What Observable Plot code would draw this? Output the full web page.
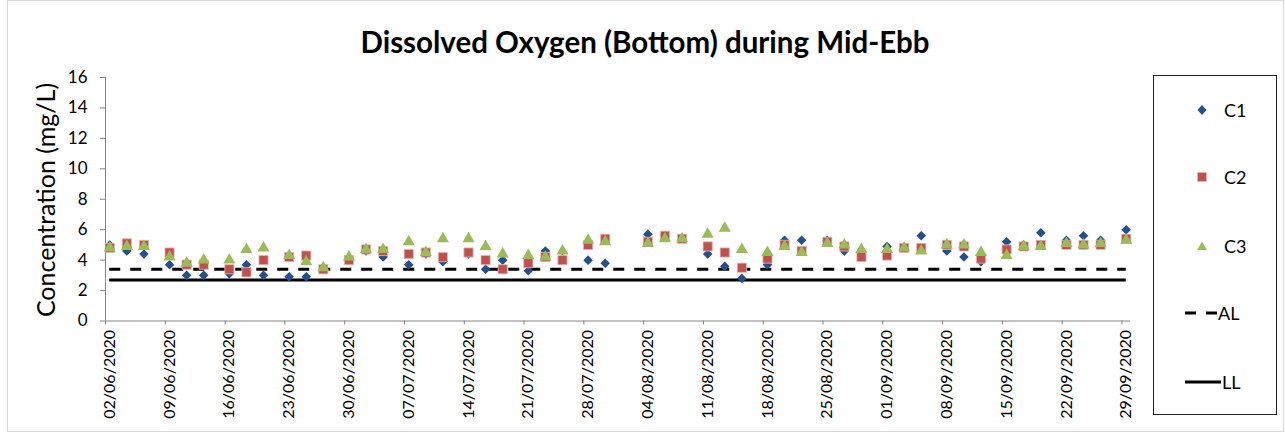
<!DOCTYPE html>
<html>
<head>
<meta charset="utf-8">
<script src="https://cdn.jsdelivr.net/npm/d3@7"></script>
<script src="https://cdn.jsdelivr.net/npm/@observablehq/plot@0.6"></script>
<style>
  body { margin: 0; background: #fff; font-family: Lato, "Open Sans", sans-serif; }
  #wrap { position: relative; width: 1285px; height: 441px; overflow: hidden; background: #fff; }
  #border { position: absolute; left: 7px; top: 0px; width: 1277px; height: 432px; border: 1px solid #d9d9d9; box-sizing: border-box; }
  #title { position: absolute; left: 0; top: 24px; width: 1290px; text-align: center; font-weight: bold; font-size: 29.5px; line-height: 36px; color: #000; }
  #ylabel { position: absolute; left: 45px; top: 200px; transform: translate(-50%, -50%) rotate(-90deg); white-space: nowrap; font-size: 25px; color: #000; }
  #chart { position: absolute; left: 0; top: 60px; }
  #legend { position: absolute; left: 1153px; top: 75px; width: 124px; height: 340px; border: 1px solid #222; box-sizing: border-box; background: #fff; }
  .li { position: absolute; left: 0; width: 124px; height: 24px; }
  .li svg { position: absolute; left: 0; top: 0; }
  .li span { position: absolute; top: 0; line-height: 24px; font-size: 18px; color: #000; }
</style>
</head>
<body>
<div id="wrap">
  <div id="border"></div>
  <div id="title">Dissolved Oxygen (Bottom) during Mid-Ebb</div>
  <div id="ylabel">Concentration (mg/L)</div>
  <div id="chart"></div>
  <div id="legend"></div>
</div>
<script>
// ---- data ----
const dates = [
  "2020-06-02","2020-06-04","2020-06-06","2020-06-09","2020-06-11","2020-06-13",
  "2020-06-16","2020-06-18","2020-06-20","2020-06-23","2020-06-25","2020-06-27",
  "2020-06-30","2020-07-02","2020-07-04","2020-07-07","2020-07-09","2020-07-11",
  "2020-07-14","2020-07-16","2020-07-18","2020-07-21","2020-07-23","2020-07-25",
  "2020-07-28","2020-07-30","2020-08-04","2020-08-06","2020-08-08","2020-08-11",
  "2020-08-13","2020-08-15","2020-08-18","2020-08-20","2020-08-22","2020-08-25",
  "2020-08-27","2020-08-29","2020-09-01","2020-09-03","2020-09-05","2020-09-08",
  "2020-09-10","2020-09-12","2020-09-15","2020-09-17","2020-09-19","2020-09-22",
  "2020-09-24","2020-09-26","2020-09-29"
];
const c1 = [5.0,4.6,4.4,3.7,3.0,3.0, 3.1,3.7,3.0,2.9,2.9,3.4, 4.0,4.6,4.2,3.7,4.4,3.9,
            4.4,3.4,4.0,3.3,4.6,4.1, 4.0,3.8,5.7,5.6,5.4,4.4, 3.6,2.8,3.7,5.3,5.3,5.3,
            4.6,4.6,4.9,4.8,5.6,4.6, 4.2,3.9,5.2,5.0,5.8,5.3, 5.6,5.3,6.0];
const c2 = [4.8,5.1,5.0,4.5,3.7,3.7, 3.4,3.2,4.0,4.2,4.3,3.4, 4.0,4.7,4.6,4.4,4.5,4.2,
            4.5,4.0,3.4,3.8,4.2,4.0, 5.0,5.4,5.2,5.6,5.4,4.9, 4.5,3.5,4.1,5.0,4.6,5.2,
            4.9,4.2,4.3,4.8,4.8,5.0, 4.9,4.1,4.7,4.9,5.0,5.0, 5.0,5.0,5.4];
const c3 = [4.8,4.9,4.9,4.2,3.8,4.0, 4.0,4.7,4.8,4.3,3.9,3.5, 4.2,4.7,4.7,5.2,4.5,5.4,
            5.4,4.9,4.4,4.3,4.2,4.6, 5.3,5.2,5.1,5.4,5.4,5.7, 6.1,4.7,4.5,4.9,4.5,5.1,
            5.0,4.7,4.7,4.8,4.6,5.0, 5.0,4.5,4.3,4.9,4.9,5.1, 5.0,5.1,5.3];
const actionLevel = 3.4;
const limitLevel = 2.7;
const tickDates = [
  "2020-06-02","2020-06-09","2020-06-16","2020-06-23","2020-06-30","2020-07-07",
  "2020-07-14","2020-07-21","2020-07-28","2020-08-04","2020-08-11","2020-08-18",
  "2020-08-25","2020-09-01","2020-09-08","2020-09-15","2020-09-22","2020-09-29"
];
const yTicks = [0, 2, 4, 6, 8, 10, 12, 14, 16];
const seriesNames = ["C1", "C2", "C3"];

// ---- build ----
const parse = d3.utcParse("%Y-%m-%d");
const D = dates.map(parse);
const T = tickDates.map(parse);
const tickBounds = T.map(d => d3.utcHour.offset(d, -12));
const x0 = d3.utcHour.offset(D[0], -12);
const x1 = d3.utcHour.offset(D[D.length - 1], 12);
const rows = (vals) => D.map((d, i) => ({date: d, v: vals[i]}));
const fmt = d3.utcFormat("%d/%m/%Y");

const colors = {C1: "#23508C", C2: "#C0504D", C3: "#9BBB59"};
const axisGray = "#868686";

const plot = Plot.plot({
  width: 1285,
  height: 381,
  marginLeft: 105,
  marginRight: 155,
  marginTop: 17,
  marginBottom: 120.5,
  style: {fontFamily: "Lato, 'Open Sans', sans-serif", color: "#000", background: "transparent"},
  x: {type: "utc", domain: [x0, x1]},
  y: {domain: [0, 16]},
  marks: [
    Plot.axisY(yTicks, {tickSize: 5, tickPadding: 13, fontSize: 17, stroke: axisGray, fill: "#000", label: null}),
    Plot.axisX(tickBounds, {tickSize: 4, tickFormat: () => "", stroke: axisGray, label: null}),
    Plot.axisX(T, {tickSize: 0, tickPadding: 9, tickRotate: -90, tickFormat: fmt, fontSize: 16, fill: "#000", label: null}),
    Plot.ruleX([x0], {stroke: axisGray}),
    Plot.ruleY([0], {stroke: axisGray}),
    Plot.ruleY([actionLevel], {x1: D[0], x2: D[D.length - 1], stroke: "#000", strokeWidth: 3, strokeDasharray: "11,10"}),
    Plot.ruleY([limitLevel], {x1: D[0], x2: D[D.length - 1], stroke: "#000", strokeWidth: 3}),
    Plot.dot(rows(c1), {x: "date", y: "v", symbol: "diamond2", r: 4.3, fill: colors.C1, stroke: "none"}),
    Plot.dot(rows(c2), {x: "date", y: "v", symbol: "square", r: 5.2, fill: colors.C2, stroke: "#E6B9B8", strokeWidth: 0.8}),
    Plot.dot(rows(c3), {x: "date", y: "v", symbol: "triangle", r: 4.5, fill: colors.C3, stroke: "none"})
  ]
});
document.getElementById("chart").appendChild(plot);

// ---- legend ----
const legend = document.getElementById("legend");
const items = [
  {name: seriesNames[0], cy: 110, kind: "diamond"},
  {name: seriesNames[1], cy: 177, kind: "square"},
  {name: seriesNames[2], cy: 246, kind: "triangle"},
  {name: "AL", cy: 313, kind: "dash"},
  {name: "LL", cy: 382, kind: "solid"}
];
for (const it of items) {
  const div = document.createElement("div");
  div.className = "li";
  div.style.top = (it.cy - 75 - 12 - 1) + "px";
  let svg = "";
  const cx = 1202 - 1153 - 1;
  if (it.kind === "diamond") {
    svg = `<path d="M${cx},7 L${cx+4.5},12 L${cx},17 L${cx-4.5},12 Z" fill="${colors.C1}"/>`;
  } else if (it.kind === "square") {
    svg = `<rect x="${cx-4.5}" y="7.5" width="9" height="9" fill="${colors.C2}" stroke="#E6B9B8" stroke-width="0.8"/>`;
  } else if (it.kind === "triangle") {
    svg = `<path d="M${cx},7.5 L${cx+5},16 L${cx-5},16 Z" fill="${colors.C3}"/>`;
  } else if (it.kind === "dash") {
    svg = `<line x1="31" x2="64" y1="12" y2="12" stroke="#000" stroke-width="3" stroke-dasharray="11,10"/>`;
  } else {
    svg = `<line x1="31" x2="67" y1="12" y2="12" stroke="#000" stroke-width="3"/>`;
  }
  const textLeft = (it.kind === "dash") ? 64 : (it.kind === "solid" ? 68 : 70);
  div.innerHTML = `<svg width="124" height="24">${svg}</svg><span style="left:${textLeft}px">${it.name}</span>`;
  legend.appendChild(div);
}
</script>
</body>
</html>
